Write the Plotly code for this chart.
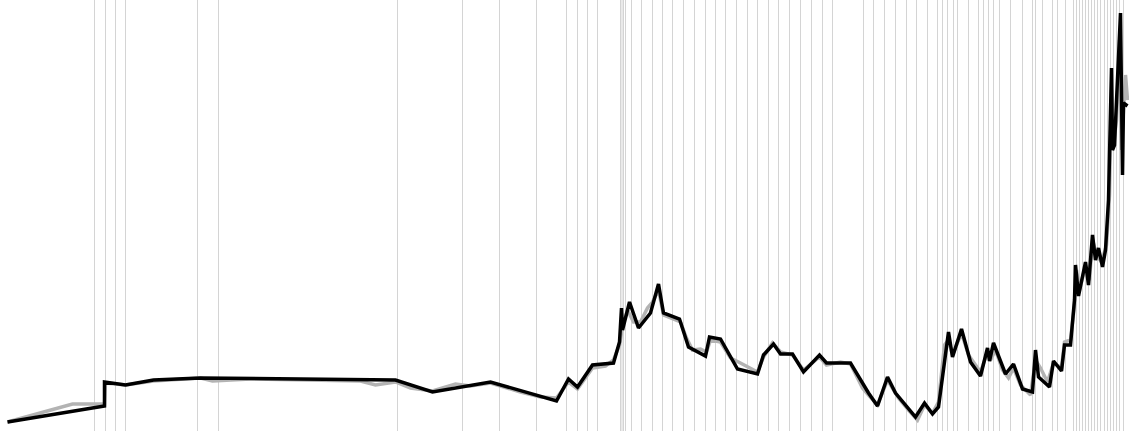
import plotly.graph_objects as go

# positions along the time axis (index units) and levels
black_x = [7, 104, 104, 125, 153, 200, 300, 395, 432, 490, 556, 568, 577, 592, 613, 619, 621, 622, 629, 638,
           650, 658, 663, 679, 688, 705, 709, 720, 737, 757, 763, 773, 780, 792, 803, 819, 826, 850, 868, 877,
           887, 895, 915, 924, 932, 938, 948, 952, 961, 970, 980, 987, 989, 993, 1005, 1013, 1022, 1032, 1035, 1038,
           1049, 1053, 1061, 1064, 1070, 1074, 1075, 1078, 1085, 1088, 1092, 1095, 1098, 1102, 1105, 1108, 1111, 1112, 1114, 1120,
           1122, 1123, 1127]
black_y = [9, 25, 49, 46, 51, 53, 52, 51, 39, 49, 30, 52, 44, 66, 68, 89, 123, 101, 129, 103,
           118, 147, 118, 112, 84, 75, 94, 92, 62, 57, 76, 87, 77, 77, 59, 76, 68, 68, 38, 25,
           54, 38, 14, 28, 17, 24, 99, 74, 102, 69, 55, 83, 70, 88, 57, 67, 42, 39, 81, 54,
           44, 70, 60, 86, 86, 131, 166, 135, 169, 146, 196, 171, 183, 164, 181, 231, 363, 281, 286, 418,
           256, 328, 325]

gray_x = [7, 72, 104, 105, 125, 153, 200, 212, 250, 300, 360, 375, 395, 410, 432, 455, 470, 490, 520, 540,
          556, 568, 577, 592, 605, 613, 619, 622, 627, 633, 640, 647, 652, 658, 663, 680, 686, 692, 700, 706,
          710, 720, 730, 738, 746, 757, 763, 772, 780, 792, 803, 819, 826, 840, 850, 862, 868, 877, 887, 898,
          908, 917, 924, 932, 938, 944, 948, 952, 961, 968, 975, 980, 987, 991, 995, 1002, 1008, 1013, 1020, 1030,
          1035, 1040, 1047, 1053, 1061, 1064, 1070, 1074, 1076, 1079, 1085, 1089, 1092, 1096, 1101, 1106, 1109, 1111, 1113, 1116,
          1119, 1121, 1123, 1125, 1127]
gray_y = [9, 27, 27, 48, 46, 50, 53, 50, 52, 51, 50, 46, 49, 43, 40, 47, 45, 48, 39, 34,
          33, 49, 42, 63, 65, 71, 86, 105, 121, 109, 109, 123, 129, 141, 116, 109, 93, 81, 82, 79,
          91, 89, 73, 69, 65, 59, 74, 88, 79, 76, 61, 74, 66, 69, 67, 43, 36, 26, 51, 33,
          21, 11, 26, 18, 29, 86, 91, 76, 98, 76, 66, 59, 79, 73, 81, 61, 53, 63, 46, 36,
          71, 63, 49, 68, 63, 89, 91, 126, 161, 141, 165, 151, 191, 176, 169, 186, 236, 341, 286, 311,
          391, 281, 321, 356, 331]

# dates of the marked events (vertical rules)
event_x = [94, 105, 115, 125, 197, 218, 397, 462, 499, 536, 566, 577, 587, 597, 620, 621.5, 623, 625, 631,
           641, 652, 662, 672, 683, 694, 705, 715, 725, 736, 747, 757, 768, 778, 789, 800, 811, 822, 832, 863,
           873, 884, 895, 906, 916, 927, 937, 942, 947, 953, 957, 968, 978, 983, 988, 993, 999, 1010, 1022, 1032,
           1035, 1042, 1052, 1057, 1065, 1073, 1076, 1079, 1082, 1085, 1088, 1091, 1094, 1097, 1100, 1104,
           1107, 1110, 1113, 1116, 1119, 1123]

fig = go.Figure()
for ex in event_x:
    fig.add_vline(x=ex, line=dict(color='#d4d4d4', width=1), layer='below')
fig.add_trace(go.Scatter(x=gray_x, y=gray_y, mode='lines', line=dict(color='#b3b3b3', width=3.5), showlegend=False))
fig.add_trace(go.Scatter(x=black_x, y=black_y, mode='lines', line=dict(color='#000000', width=3.5), showlegend=False))
fig.update_layout(
    width=1129, height=436,
    margin=dict(l=0, r=0, t=0, b=5),
    plot_bgcolor='white', paper_bgcolor='white',
    xaxis=dict(range=[-0.5, 1128.5], visible=False),
    yaxis=dict(range=[0, 431], visible=False),
)
fig.write_html('out.html', config={'displayModeBar': False}, post_script="document.body.style.margin='0';")
